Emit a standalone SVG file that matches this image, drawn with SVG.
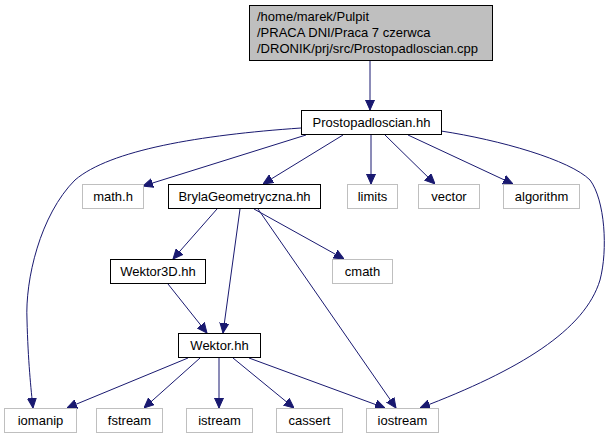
<svg xmlns="http://www.w3.org/2000/svg" width="612" height="440" viewBox="0 0 612 440">
<defs>
<marker id="ah" viewBox="0 0 10 10" refX="10" refY="5" markerWidth="10" markerHeight="10" markerUnits="userSpaceOnUse" orient="auto">
<path d="M0,0.5 L10,5 L0,9.5 Z" fill="#191970" stroke="#191970"/>
</marker>
<style>
.n rect{fill:#fff;stroke:#000;stroke-width:1}
.g rect{fill:#fff;stroke:#bfbfbf;stroke-width:1}
text{font-family:"Liberation Sans",Arial,sans-serif;font-size:13px;fill:#000}
.c{text-anchor:middle}
#edges path{fill:none;stroke:#191970;stroke-width:1;marker-end:url(#ah)}
</style>
</defs>
<rect width="612" height="440" fill="#fff"/>
<g id="edges">
<path d="M370,60 L370,110"/>
<path d="M306,135 L143,186"/>
<path d="M343,135 L263,184"/>
<path d="M371,135 L371,184"/>
<path d="M385,135 L435,184"/>
<path d="M408,135 L513,184"/>
<path d="M301,128 C200,135 110,150 75,180 C40,215 25,280 27,320 C28,360 31,390 33,408"/>
<path d="M441,131 C500,140 570,160 590,180 C605,200 608,250 600,280 C585,330 520,370 420,408"/>
<path d="M217,209 L173,259"/>
<path d="M240,209 L223,333"/>
<path d="M254,209 L344,259"/>
<path d="M258,209 L396,408"/>
<path d="M168,284 L207,333"/>
<path d="M188,358 L67,408"/>
<path d="M200,358 L144,408"/>
<path d="M219,358 L219,408"/>
<path d="M233,358 L294,408"/>
<path d="M249,358 L385,408"/>
</g>
<g id="src" class="n"><rect x="249.5" y="5.5" width="243" height="55" style="fill:#bfbfbf"/><text x="257" y="21">/home/marek/Pulpit</text><text x="257" y="37">/PRACA DNI/Praca 7 czerwca</text><text x="257" y="53">/DRONIK/prj/src/Prostopadloscian.cpp</text></g>
<g id="prosto" class="n"><rect x="301.5" y="110.5" width="140" height="24"/><text class="c" x="371.5" y="127">Prostopadloscian.hh</text></g>
<g id="mathh" class="g"><rect x="82.5" y="184.5" width="61" height="24"/><text class="c" x="113" y="201">math.h</text></g>
<g id="bryla" class="n"><rect x="168.5" y="184.5" width="152" height="24"/><text class="c" x="244.5" y="201">BrylaGeometryczna.hh</text></g>
<g id="limits" class="g"><rect x="347.5" y="184.5" width="50" height="24"/><text class="c" x="372.5" y="201">limits</text></g>
<g id="vector" class="g"><rect x="418.5" y="184.5" width="61" height="24"/><text class="c" x="449" y="201">vector</text></g>
<g id="algorithm" class="g"><rect x="503.5" y="184.5" width="76" height="24"/><text class="c" x="541.5" y="201">algorithm</text></g>
<g id="wektor3d" class="n"><rect x="110.5" y="259.5" width="95" height="24"/><text class="c" x="158" y="276">Wektor3D.hh</text></g>
<g id="cmath" class="g"><rect x="332.5" y="259.5" width="60" height="24"/><text class="c" x="362.5" y="276">cmath</text></g>
<g id="wektor" class="n"><rect x="178.5" y="333.5" width="82" height="24"/><text class="c" x="219.5" y="350">Wektor.hh</text></g>
<g id="iomanip" class="g"><rect x="4.5" y="408.5" width="72" height="24"/><text class="c" x="40.5" y="425">iomanip</text></g>
<g id="fstream" class="g"><rect x="96.5" y="408.5" width="66" height="24"/><text class="c" x="129.5" y="425">fstream</text></g>
<g id="istream" class="g"><rect x="186.5" y="408.5" width="66" height="24"/><text class="c" x="219.5" y="425">istream</text></g>
<g id="cassert" class="g"><rect x="276.5" y="408.5" width="66" height="24"/><text class="c" x="309.5" y="425">cassert</text></g>
<g id="iostream" class="g"><rect x="366.5" y="408.5" width="72" height="24"/><text class="c" x="402.5" y="425">iostream</text></g>
</svg>
